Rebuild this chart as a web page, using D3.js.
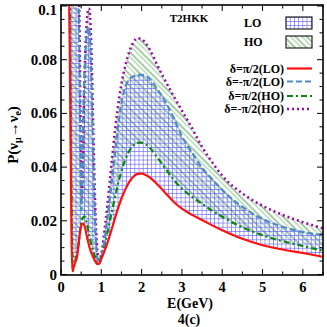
<!DOCTYPE html>
<html><head><meta charset="utf-8">
<script src="https://cdn.jsdelivr.net/npm/d3@7/dist/d3.min.js"></script>
<style>
html,body{margin:0;padding:0;background:#fff;}
text{font-family:"Liberation Serif","Times New Roman",serif;font-weight:bold;}
</style></head>
<body>
<svg id="chart" width="327" height="327"></svg>
<script>
const energy = [0.2,0.22,0.24,0.26,0.28,0.3,0.32,0.34,0.36,0.38,0.4,0.42,0.44,0.46,0.48,0.5,0.52,0.55,0.58,0.6,0.62,0.64,0.66,0.68,0.7,0.72,0.74,0.76,0.8,0.85,0.9,0.95,1.0,1.1,1.2,1.3,1.4,1.5,1.6,1.7,1.8,1.9,2.0,2.1,2.2,2.4,2.6,2.8,3.0,3.25,3.5,3.75,4.0,4.5,5.0,5.5,6.0,6.5];
// delta = pi/2 (LO)
const pPlusLO = [0.105,0.08,0.045,0.015,0.0012,0.0018,0.003,0.004,0.0048,0.0055,0.0068,0.009,0.0115,0.0142,0.0165,0.018,0.0188,0.019,0.0182,0.0172,0.0158,0.0143,0.013,0.0117,0.0105,0.0095,0.0086,0.0078,0.0064,0.0049,0.0039,0.0041,0.0058,0.0095,0.014,0.019,0.024,0.0283,0.0318,0.0346,0.0365,0.0375,0.0376,0.0371,0.0362,0.0334,0.0302,0.027,0.0245,0.0222,0.0203,0.0183,0.0165,0.0133,0.0109,0.0093,0.008,0.0066];
// delta = -pi/2 (LO)
const pMinusLO = [0.3,0.29,0.28,0.27,0.26,0.25,0.23,0.2,0.175,0.15,0.13,0.115,0.1,0.075,0.045,0.024,0.03,0.058,0.074,0.081,0.086,0.0895,0.0915,0.092,0.0915,0.088,0.08,0.069,0.043,0.018,0.0065,0.004,0.0062,0.015,0.027,0.04,0.053,0.064,0.07,0.0728,0.0738,0.0743,0.0744,0.074,0.0728,0.0688,0.064,0.0582,0.0515,0.0455,0.0398,0.0355,0.0315,0.0252,0.0207,0.0178,0.0158,0.0147];
// delta = pi/2 (HO)
const pPlusHO = [0.118,0.095,0.062,0.03,0.01,0.0015,0.0025,0.004,0.0055,0.0068,0.008,0.0098,0.012,0.0145,0.017,0.019,0.0203,0.0213,0.0216,0.0213,0.0204,0.0191,0.0176,0.0161,0.0146,0.0132,0.0119,0.0107,0.0086,0.0062,0.0044,0.0045,0.0068,0.0122,0.019,0.026,0.0328,0.0385,0.043,0.0462,0.0481,0.049,0.0491,0.0485,0.0472,0.0434,0.0392,0.0352,0.032,0.0289,0.0263,0.0238,0.0215,0.0176,0.0146,0.0124,0.0106,0.0088];
// delta = -pi/2 (HO)
const pMinusHO = [0.32,0.31,0.3,0.29,0.28,0.27,0.25,0.22,0.19,0.165,0.145,0.127,0.11,0.09,0.062,0.036,0.029,0.048,0.07,0.081,0.089,0.094,0.0975,0.099,0.099,0.096,0.09,0.08,0.054,0.025,0.009,0.0045,0.0075,0.019,0.033,0.048,0.061,0.071,0.078,0.0832,0.0866,0.088,0.0876,0.0862,0.0838,0.0776,0.0718,0.0663,0.061,0.0545,0.0475,0.0418,0.0368,0.0302,0.0256,0.0222,0.0195,0.0172];

const xTicks = [0,1,2,3,4,5,6];
const yTicks = [0,0.02,0.04,0.06,0.08,0.1];
const seriesNames = ["δ=π/2(LO)","δ=-π/2(LO)","δ=π/2(HO)","δ=-π/2(HO)"];
const bandNames = ["LO","HO"];
const title = "T2HKK";

const svg = d3.select("#chart");
const L=61, R=323, T=5, B=275;
const x = d3.scaleLinear().domain([0,6.5]).range([L,R]);
const y = d3.scaleLinear().domain([0,0.1]).range([B-0.5,T+1]);

const defs = svg.append("defs");
defs.append("clipPath").attr("id","clip").append("rect")
  .attr("x",L).attr("y",T).attr("width",R-L).attr("height",B-T);
const pLO = defs.append("pattern").attr("id","gridLO").attr("patternUnits","userSpaceOnUse")
  .attr("width",4.2).attr("height",4.2);
pLO.append("path").attr("d","M0,0.3H4.2M0.3,0V4.2").attr("stroke","#5a5aff").attr("stroke-width",0.7).attr("fill","none");
const pHO = defs.append("pattern").attr("id","diagHO").attr("patternUnits","userSpaceOnUse")
  .attr("width",8).attr("height",8).attr("patternTransform","rotate(45)");
pHO.append("line").attr("x1",0).attr("x2",8).attr("y1",1).attr("y2",1).attr("stroke","#1f7a1f").attr("stroke-width",0.8);
pHO.append("line").attr("x1",0).attr("x2",8).attr("y1",4.5).attr("y2",4.5).attr("stroke","#a9d3a9").attr("stroke-width",1.3);

const g = svg.append("g").attr("clip-path","url(#clip)");
const idx = d3.range(energy.length);
const area = (a,b)=>d3.area().curve(d3.curveMonotoneX).x(i=>x(energy[i])).y0(i=>y(a[i])).y1(i=>y(b[i]));
g.append("path").attr("d",area(pPlusHO,pMinusHO)(idx)).attr("fill","url(#diagHO)");
g.append("path").attr("d",area(pPlusLO,pMinusLO)(idx)).attr("fill","url(#gridLO)");

const styles = [
  {data:pPlusLO, color:"#ff1010", w:2.2, dash:null},
  {data:pMinusLO, color:"#4b8bc8", w:2.2, dash:"6,3"},
  {data:pPlusHO, color:"#0a860a", w:2.2, dash:"6,3,2,3"},
  {data:pMinusHO, color:"#9b0aa0", w:2.6, dash:"2,3"}
];
const line = d=>d3.line().curve(d3.curveMonotoneX).x(i=>x(energy[i])).y(i=>y(d[i]))(idx);
[3,2,1,0].forEach(k=>{
  const s=styles[k];
  g.append("path").attr("d",line(s.data)).attr("fill","none").attr("stroke",s.color)
   .attr("stroke-width",s.w).attr("stroke-dasharray",s.dash);
});

const ax = svg.append("g");
const yMinor = d3.range(0,0.1001,0.005);
const xMinor = d3.range(0,6.51,0.5);
yMinor.forEach(v=>{
  const major = yTicks.some(t=>Math.abs(t-v)<1e-6);
  const len = major?6:3.5;
  ax.append("line").attr("x1",L).attr("x2",L+len).attr("y1",y(v)).attr("y2",y(v)).attr("stroke","#000").attr("stroke-width",1);
  ax.append("line").attr("x1",R).attr("x2",R-len).attr("y1",y(v)).attr("y2",y(v)).attr("stroke","#000").attr("stroke-width",1);
});
xMinor.forEach(v=>{
  const major = xTicks.some(t=>Math.abs(t-v)<1e-6);
  const len = major?6:3.5;
  ax.append("line").attr("x1",x(v)).attr("x2",x(v)).attr("y1",B).attr("y2",B-len).attr("stroke","#000").attr("stroke-width",1);
  ax.append("line").attr("x1",x(v)).attr("x2",x(v)).attr("y1",T).attr("y2",T+len).attr("stroke","#000").attr("stroke-width",1);
});
ax.append("rect").attr("x",L).attr("y",T).attr("width",R-L).attr("height",B-T)
  .attr("fill","none").attr("stroke","#000").attr("stroke-width",1.6);

yTicks.forEach(v=>{
  ax.append("text").attr("x",L-4).attr("y",Math.max(y(v)+5,15)).attr("text-anchor","end")
    .attr("font-size",15).text(d3.format("~g")(v));
});
xTicks.forEach(v=>{
  ax.append("text").attr("x",x(v)).attr("y",B+17).attr("text-anchor","middle")
    .attr("font-size",14.5).text(v);
});
svg.append("text").attr("x",190).attr("y",308).attr("text-anchor","middle").attr("font-size",14).text("E(GeV)");
svg.append("text").attr("x",189).attr("y",323.5).attr("text-anchor","middle").attr("font-size",14).text("4(c)");

const yl = svg.append("text").attr("transform","translate(18,135) rotate(-90)").attr("text-anchor","middle").attr("font-size",15);
yl.append("tspan").text("P(ν");
yl.append("tspan").attr("font-size",10).attr("dy",3).text("μ");
yl.append("tspan").attr("dy",-3).text("→ν");
yl.append("tspan").attr("font-size",10).attr("dy",3).text("e");
yl.append("tspan").attr("dy",-3).text(")");

svg.append("text").attr("x",189).attr("y",22).attr("text-anchor","middle").attr("font-size",11).text(title);
const boxes=[{name:bandNames[0],fill:"url(#gridLO)",yc:23},{name:bandNames[1],fill:"url(#diagHO)",yc:42}];
boxes.forEach(b=>{
  svg.append("text").attr("x",244).attr("y",b.yc).attr("dy","0.35em").attr("font-size",12).text(b.name);
  svg.append("rect").attr("x",286).attr("y",b.yc-6).attr("width",26).attr("height",12)
    .attr("fill",b.fill).attr("stroke","#222").attr("stroke-width",1.2);
});
const legY=[68.5,81.5,96,109];
seriesNames.forEach((n,k)=>{
  svg.append("text").attr("x",284).attr("y",legY[k]).attr("dy","0.35em").attr("text-anchor","end").attr("font-size",12).text(n);
  const s=styles[k];
  svg.append("line").attr("x1",287).attr("x2",312).attr("y1",legY[k]).attr("y2",legY[k])
    .attr("stroke",s.color).attr("stroke-width",s.w).attr("stroke-dasharray",s.dash);
});
</script>
</body></html>
